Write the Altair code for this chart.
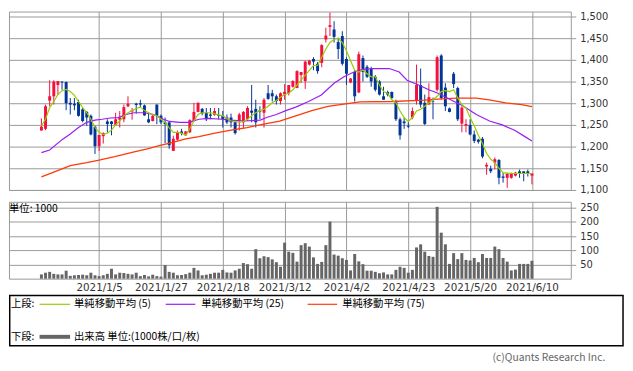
import altair as alt
import pandas as pd

# ---------------- data (trading-day index 0 = 2021/1/5) ----------------
FIRST_IDX = -14
OPEN = [1237, 1241, 1306, 1316, 1342, 1350, 1349, 1301, 1299, 1303, 1286, 1280, 1271, 1246,
        1201, 1224, 1258, 1258, 1250, 1262, 1263, 1293, 1281, 1299, 1300, 1295, 1263, 1259, 1297, 1271,
        1256, 1256, 1190, 1216, 1235, 1226, 1233, 1259, 1280, 1287, 1278, 1274, 1273, 1273, 1271,
        1267, 1267, 1256, 1259, 1256, 1263, 1283, 1287, 1283, 1278, 1323, 1323, 1316, 1305, 1320,
        1323, 1338, 1335, 1365, 1351, 1389, 1402, 1391, 1393, 1447, 1476, 1470, 1441, 1455, 1402,
        1348, 1372, 1325, 1404, 1384, 1380, 1361, 1350, 1316, 1326, 1326, 1305, 1263, 1258, 1248,
        1267, 1305, 1342, 1301, 1297, 1304, 1331, 1410, 1336, 1288, 1368, 1335, 1253, 1248, 1250,
        1228, 1216, 1218, 1154, 1149, 1163, 1169, 1131, 1128, 1128, 1133, 1143, 1143, 1143, 1133]
HIGH = [1265, 1297, 1353, 1353, 1351, 1350, 1350, 1312, 1312, 1308, 1289, 1282, 1274, 1248,
        1227, 1233, 1263, 1259, 1278, 1282, 1297, 1316, 1289, 1301, 1308, 1297, 1278, 1273, 1297, 1274,
        1267, 1259, 1225, 1237, 1241, 1236, 1263, 1301, 1302, 1289, 1289, 1289, 1289, 1289, 1282,
        1274, 1276, 1259, 1278, 1282, 1293, 1342, 1308, 1293, 1312, 1342, 1331, 1320, 1325, 1344,
        1342, 1353, 1376, 1372, 1398, 1400, 1406, 1395, 1436, 1474, 1509, 1489, 1451, 1466, 1406,
        1358, 1376, 1419, 1410, 1388, 1384, 1365, 1353, 1338, 1329, 1327, 1308, 1267, 1267, 1256,
        1290, 1389, 1380, 1320, 1346, 1313, 1410, 1413, 1346, 1290, 1372, 1338, 1293, 1263, 1263,
        1237, 1218, 1222, 1163, 1156, 1175, 1171, 1139, 1139, 1140, 1142, 1147, 1143, 1147, 1139]
LOW = [1237, 1238, 1293, 1297, 1320, 1331, 1284, 1274, 1284, 1269, 1256, 1248, 1226, 1183,
       1190, 1207, 1233, 1226, 1248, 1244, 1256, 1291, 1262, 1276, 1291, 1271, 1254, 1258, 1252, 1252,
       1208, 1195, 1190, 1214, 1226, 1225, 1231, 1258, 1279, 1272, 1259, 1263, 1271, 1263, 1244,
       1252, 1244, 1228, 1237, 1241, 1259, 1256, 1244, 1263, 1244, 1308, 1304, 1297, 1297, 1308,
       1318, 1336, 1335, 1347, 1333, 1387, 1376, 1368, 1383, 1440, 1455, 1440, 1402, 1387, 1342,
       1346, 1304, 1323, 1350, 1358, 1338, 1327, 1318, 1308, 1316, 1308, 1259, 1216, 1241, 1243,
       1263, 1297, 1290, 1250, 1297, 1263, 1327, 1308, 1282, 1279, 1335, 1259, 1233, 1233, 1226,
       1208, 1207, 1173, 1135, 1139, 1147, 1113, 1117, 1105, 1126, 1131, 1128, 1120, 1131, 1113]
CLOSE = [1246, 1293, 1316, 1350, 1351, 1348, 1300, 1297, 1295, 1271, 1259, 1267, 1228, 1201,
         1227, 1231, 1252, 1252, 1263, 1267, 1291, 1299, 1284, 1296, 1297, 1272, 1256, 1271, 1271, 1256,
         1252, 1203, 1218, 1233, 1231, 1235, 1261, 1280, 1301, 1277, 1263, 1271, 1282, 1271, 1263,
         1256, 1256, 1231, 1274, 1280, 1289, 1278, 1256, 1281, 1308, 1310, 1316, 1305, 1323, 1326,
         1342, 1351, 1374, 1372, 1396, 1398, 1396, 1374, 1434, 1456, 1480, 1453, 1425, 1391, 1368,
         1357, 1316, 1413, 1372, 1361, 1350, 1331, 1320, 1308, 1320, 1312, 1263, 1226, 1254, 1246,
         1282, 1342, 1297, 1252, 1314, 1303, 1406, 1312, 1293, 1280, 1344, 1263, 1290, 1252, 1228,
         1213, 1211, 1177, 1158, 1143, 1171, 1128, 1128, 1138, 1138, 1140, 1139, 1138, 1139, 1138]
VOLUME = [15, 21, 24, 17, 15, 15, 28, 10, 12, 13, 14, 12, 21, 12,
          9, 12, 17, 35, 15, 21, 20, 17, 15, 21, 9, 13, 8, 14, 9, 7,
          48, 24, 21, 12, 13, 16, 21, 38, 29, 12, 14, 17, 21, 21, 31,
          22, 21, 29, 35, 55, 51, 35, 104, 72, 79, 76, 68, 58, 42, 127,
          95, 91, 60, 118, 125, 113, 75, 52, 59, 118, 201, 85, 81, 72, 66,
          29, 87, 61, 51, 28, 28, 24, 19, 22, 15, 15, 31, 42, 38, 21,
          31, 110, 121, 95, 80, 77, 253, 162, 121, 52, 90, 69, 90, 66, 64,
          73, 58, 87, 73, 73, 113, 104, 73, 60, 29, 32, 52, 52, 52, 63]
MA5 = [1248, 1263, 1290, 1304, 1320, 1329, 1332, 1327, 1318, 1304, 1290, 1278, 1263, 1244,
       1233, 1228, 1231, 1238, 1250, 1259, 1271, 1278, 1283, 1288, 1291, 1283, 1278, 1274, 1271, 1263,
       1256, 1243, 1233, 1233, 1231, 1226, 1241, 1259, 1274, 1278, 1278, 1278, 1276, 1273, 1271,
       1265, 1259, 1258, 1256, 1258, 1263, 1271, 1278, 1283, 1286, 1293, 1301, 1306, 1314, 1320,
       1323, 1331, 1342, 1353, 1365, 1376, 1387, 1387, 1406, 1425, 1440, 1447, 1450, 1440, 1421,
       1398, 1376, 1372, 1376, 1368, 1361, 1361, 1342, 1327, 1323, 1308, 1301, 1282, 1267, 1258,
       1267, 1282, 1286, 1293, 1301, 1308, 1316, 1327, 1329, 1327, 1331, 1312, 1297, 1289, 1267,
       1248, 1226, 1207, 1184, 1171, 1163, 1150, 1140, 1139, 1138, 1138, 1138, 1138, 1138, 1138]
MA25_IDX = [-14, -12, -9, -7, -5, -3, -1, 0.7, 2.7, 4.6, 6.6, 8.5, 11, 13.2, 15.6, 17.1, 19.5,
            21.8, 24.2, 26.5, 29.7, 32, 35.2, 39.1, 40.6, 43, 45.3, 47.7, 50.8, 53.9, 57, 59.4,
            61.8, 64.1, 66.5, 70.4, 72.8, 74.7, 77.5, 80, 82.2, 85.3, 88.4, 91.5, 94.7, 97.8,
            100.9, 103.3, 105]
MA25 = [1186, 1192, 1216, 1229, 1244, 1256, 1261, 1263, 1266, 1267, 1274, 1278, 1278, 1274, 1263,
        1258, 1256, 1256, 1263, 1265, 1263, 1261, 1259, 1261, 1267, 1274, 1283, 1291, 1304, 1319,
        1346, 1361, 1372, 1378, 1380, 1380, 1372, 1353, 1342, 1331, 1323, 1308, 1293, 1274, 1259,
        1250, 1237, 1223, 1213]
MA75_IDX = [-14, -11, -7, -3, 0, 3.8, 8.5, 11.7, 14.8, 17.9, 21, 24.2, 28.1, 32, 35.9, 39.9,
            43.8, 47.7, 51.6, 55.5, 59.4, 63.3, 71.2, 79, 83, 86.8, 91.5, 94.7, 98.6, 102.5, 105]
MA75 = [1130, 1141, 1156, 1163, 1169, 1177, 1188, 1195, 1203, 1210, 1218, 1223, 1231, 1238, 1244,
        1252, 1259, 1271, 1283, 1293, 1298, 1303, 1304, 1307, 1310, 1312, 1312, 1308, 1301, 1297, 1292]

TICK_IDX = [0, 15, 30, 45, 60, 75, 90, 105]
TICK_LABELS = ["2021/1/5", "2021/1/27", "2021/2/18", "2021/3/12",
               "2021/4/2", "2021/4/23", "2021/5/20", "2021/6/10"]
PRICE_TICKS = [1100, 1150, 1200, 1250, 1300, 1350, 1400, 1450, 1500]
VOL_TICKS = [50, 100, 150, 200, 250]

LEGEND_TOP_LABELS = ["単純移動平均 (5)", "単純移動平均 (25)", "単純移動平均 (75)"]
LEGEND_BOTTOM_LABEL = "出来高 単位:(1000株/口/枚)"
UNIT_LABEL = "単位: 1000"
COPYRIGHT = "(c)Quants Research Inc."

# ---------------- styles / layout ----------------
C_UP, C_DOWN = "#f5103c", "#023597"
C_MA5, C_MA25, C_MA75 = "#99cc00", "#9a1cf5", "#ff3a0a"
C_GRID = "#999999"
C_VOL = "#666666"
FONT_NUM = "DejaVu Sans"
FONT_JP = "Noto Sans CJK JP"

n = len(OPEN)
idx = list(range(FIRST_IDX, FIRST_IDX + n))
df = pd.DataFrame({"i": idx, "open": OPEN, "high": HIGH, "low": LOW, "close": CLOSE, "vol": VOLUME})
df["dir"] = ["up" if c >= o else "down" for o, c in zip(OPEN, CLOSE)]

W = 570
H_TOP = 181
H_VOL = 78
PX_PER_DAY = 4.2568
X_LEFT = -88.0 / PX_PER_DAY
X_DOMAIN = [X_LEFT, X_LEFT + W / PX_PER_DAY]
PX_PER_YEN = 0.44
Y_TOP = 1500 + 5.0 / PX_PER_YEN
Y_BOTTOM = Y_TOP - H_TOP / PX_PER_YEN

xs = alt.Scale(domain=X_DOMAIN, nice=False, zero=False)
ys = alt.Scale(domain=[Y_BOTTOM, Y_TOP], nice=False, zero=False)
vs = alt.Scale(domain=[0, 270.8], nice=False)
dir_color = alt.Color("dir:N", scale=alt.Scale(domain=["up", "down"], range=[C_UP, C_DOWN]), legend=None)

x_top_axis = alt.Axis(values=TICK_IDX, grid=True, gridColor=C_GRID, gridOpacity=1, labels=False,
                      ticks=False, domain=False, title=None)
y_top_axis = alt.Axis(orient="right", values=PRICE_TICKS, format=",d", grid=True, gridColor=C_GRID,
                      gridOpacity=1, gridWidth=1, tickColor=C_GRID, tickSize=5, labelPadding=4,
                      domain=False, title=None, labelOverlap=False, labelFont=FONT_NUM,
                      labelFontSize=10, labelColor="#333333")


def X(field="i:Q"):
    return alt.X(field, scale=xs, axis=x_top_axis)


def Y(field):
    return alt.Y(field, scale=ys, axis=y_top_axis)


base = alt.Chart(df)
wick = base.mark_rule(strokeWidth=1).encode(x=X(), y=Y("low:Q"), y2="high:Q", color=dir_color)
body = base.mark_bar(size=3).encode(x=X(), y=Y("open:Q"), y2="close:Q", color=dir_color)

ma5 = alt.Chart(pd.DataFrame({"i": idx, "v": MA5})).mark_line(
    color=C_MA5, strokeWidth=1.2).encode(x=X(), y=Y("v:Q"))
ma25 = alt.Chart(pd.DataFrame({"i": MA25_IDX, "v": MA25})).mark_line(
    color=C_MA25, strokeWidth=1.2).encode(x=X(), y=Y("v:Q"))
ma75 = alt.Chart(pd.DataFrame({"i": MA75_IDX, "v": MA75})).mark_line(
    color=C_MA75, strokeWidth=1.3).encode(x=X(), y=Y("v:Q"))

top = alt.layer(wick, body, ma75, ma25, ma5).properties(width=W, height=H_TOP)

# ---- volume panel ----
label_expr = "[" + ",".join("'%s'" % t for t in TICK_LABELS) + "][round(datum.value / 15)]"
x_vol_axis = alt.Axis(values=TICK_IDX, grid=True, gridColor=C_GRID, gridOpacity=1, ticks=False,
                      tickSize=0, domain=False, title=None, labelExpr=label_expr, labelPadding=4,
                      labelOverlap=False, labelFont=FONT_NUM, labelFontSize=10.5, labelColor="#333333")
y_vol_axis = alt.Axis(orient="right", values=VOL_TICKS, grid=True, gridColor=C_GRID, gridOpacity=1,
                      tickColor=C_GRID, tickSize=5, labelPadding=4, domain=False, title=None,
                      labelOverlap=False, labelFont=FONT_NUM, labelFontSize=10, labelColor="#333333")
vol_bars = base.mark_bar(size=3, color=C_VOL).encode(
    x=alt.X("i:Q", scale=xs, axis=x_vol_axis),
    y=alt.Y("vol:Q", scale=vs, axis=y_vol_axis),
)

one = alt.Data(values=[{}])


def txt(s, x, y, align="left", size=10.5, color="#000000"):
    return alt.Chart(one).mark_text(text=s, align=align, baseline="middle", font=FONT_JP,
                                    fontSize=size, color=color).encode(x=alt.value(x), y=alt.value(y))


def seg(x1, x2, y, color, w):
    return alt.Chart(one).mark_rule(color=color, strokeWidth=w).encode(
        x=alt.value(x1), x2=alt.value(x2), y=alt.value(y))


box = alt.Chart(one).mark_rect(fill="white", stroke="#000000", strokeWidth=1.5).encode(
    x=alt.value(0.75), x2=alt.value(623), y=alt.value(95), y2=alt.value(146))

legend_layers = [
    box,
    txt("上段:", 2, 104),
    seg(31, 62, 104, C_MA5, 1.2), txt(LEGEND_TOP_LABELS[0], 66, 104),
    seg(159, 189, 104, C_MA25, 1.2), txt(LEGEND_TOP_LABELS[1], 195, 104),
    seg(303, 333, 104, C_MA75, 1.2), txt(LEGEND_TOP_LABELS[2], 338, 104),
    txt("下段:", 2, 137),
    seg(31, 62, 137, C_VOL, 4), txt(LEGEND_BOTTOM_LABEL, 66, 137),
    txt(COPYRIGHT, 605, 159, align="right", size=10.5, color="#666666"),
    txt(UNIT_LABEL, 0, 7),
]

vol = alt.layer(vol_bars, *legend_layers).properties(width=W, height=H_VOL)

chart = alt.vconcat(top, vol, spacing=12, bounds="flush").properties(
    padding=0, background="white"
).configure_view(stroke=C_GRID, strokeWidth=1)

chart.save("out.html", embed_options={"renderer": "svg", "actions": False})
